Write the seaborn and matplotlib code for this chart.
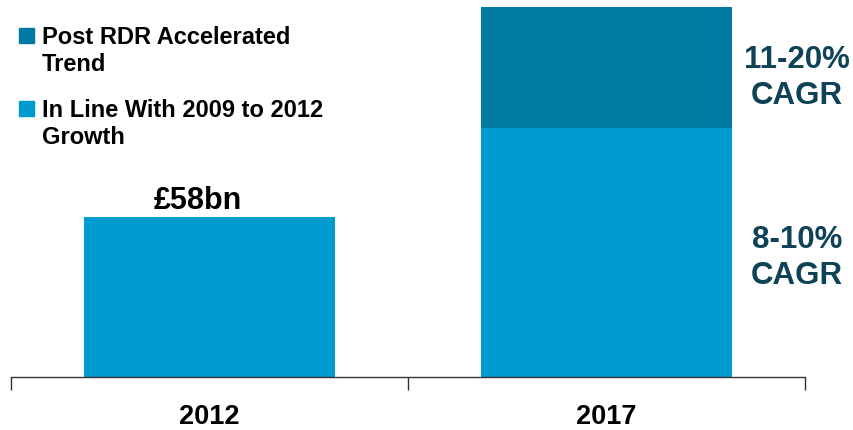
import matplotlib
matplotlib.use("Agg")
import matplotlib.pyplot as plt
from matplotlib.patches import Rectangle
import seaborn as sns
import pandas as pd

# Market size (£bn)
years = ["2012", "2017"]
in_line_growth = [58, 90]
post_rdr_extra = [0, 44]
value_label = "£58bn"
cagr_upper = ["11-20%", "CAGR"]
cagr_lower = ["8-10%", "CAGR"]
legend_labels = [["Post RDR Accelerated", "Trend"],
                 ["In Line With 2009 to 2012", "Growth"]]

dark_blue = "#0079A3"
light_blue = "#009BCE"
cagr_color = "#0E4257"

sns.set_theme(style="white")
plt.rcParams["font.family"] = ["Liberation Sans", "DejaVu Sans"]
plt.rcParams["font.weight"] = "bold"

df = pd.DataFrame({
    "year": years,
    "inline": in_line_growth,
    "total": [a + b for a, b in zip(in_line_growth, post_rdr_extra)],
})

W, H = 854, 431
fig = plt.figure(figsize=(W / 100, H / 100), dpi=100)
ax = fig.add_axes([11 / W, 53 / H, 794 / W, 371 / H])

sns.barplot(data=df, x="year", y="total", color=dark_blue, width=0.63,
            saturation=1, linewidth=0, ax=ax)
sns.barplot(data=df, x="year", y="inline", color=light_blue, width=0.63,
            saturation=1, linewidth=0, ax=ax)

ax.set_xlim(-0.5, 1.5)
ax.set_ylim(0, 134.2)
ax.set_xlabel("")
ax.set_ylabel("")
ax.set_yticks([])
for s in ["top", "left", "right"]:
    ax.spines[s].set_visible(False)
ax.spines["bottom"].set_color("#333333")
ax.spines["bottom"].set_linewidth(1.0)

ax.set_xticks([0, 1])
ax.set_xticklabels(years, fontsize=19.5, fontweight="bold", color="black")
ax.set_xticks([-0.5, 0.5, 1.5], minor=True)
ax.tick_params(axis="x", which="major", length=0, pad=19)
ax.tick_params(axis="x", which="minor", length=9, width=1, color="#333333",
               direction="out", bottom=True)

# Value label on the 2012 bar
ax.text(-0.03, 61.0, value_label, ha="center", va="baseline",
        fontsize=22, fontweight="bold", color="black")

# CAGR annotations beside the 2017 bar
for lines, baselines in [(cagr_upper, [112.0, 99.1]), (cagr_lower, [47.2, 33.9])]:
    for txt, yb in zip(lines, baselines):
        ax.text(1.48, yb, txt, ha="center", va="baseline",
                fontsize=22.5, fontweight="bold", color=cagr_color)

# Legend: square swatches with two-line labels
for lines, color, ybases in [(legend_labels[0], dark_blue, [44, 71]),
                             (legend_labels[1], light_blue, [117, 144])]:
    fig.patches.append(Rectangle((19 / W, 1 - ybases[0] / H), 15 / W, 15 / H,
                                 transform=fig.transFigure, color=color))
    for txt, yb in zip(lines, ybases):
        fig.text(42 / W, 1 - yb / H, txt, ha="left", va="baseline",
                 fontsize=17, fontweight="bold", color="black")

fig.savefig("out.png", dpi=100)
